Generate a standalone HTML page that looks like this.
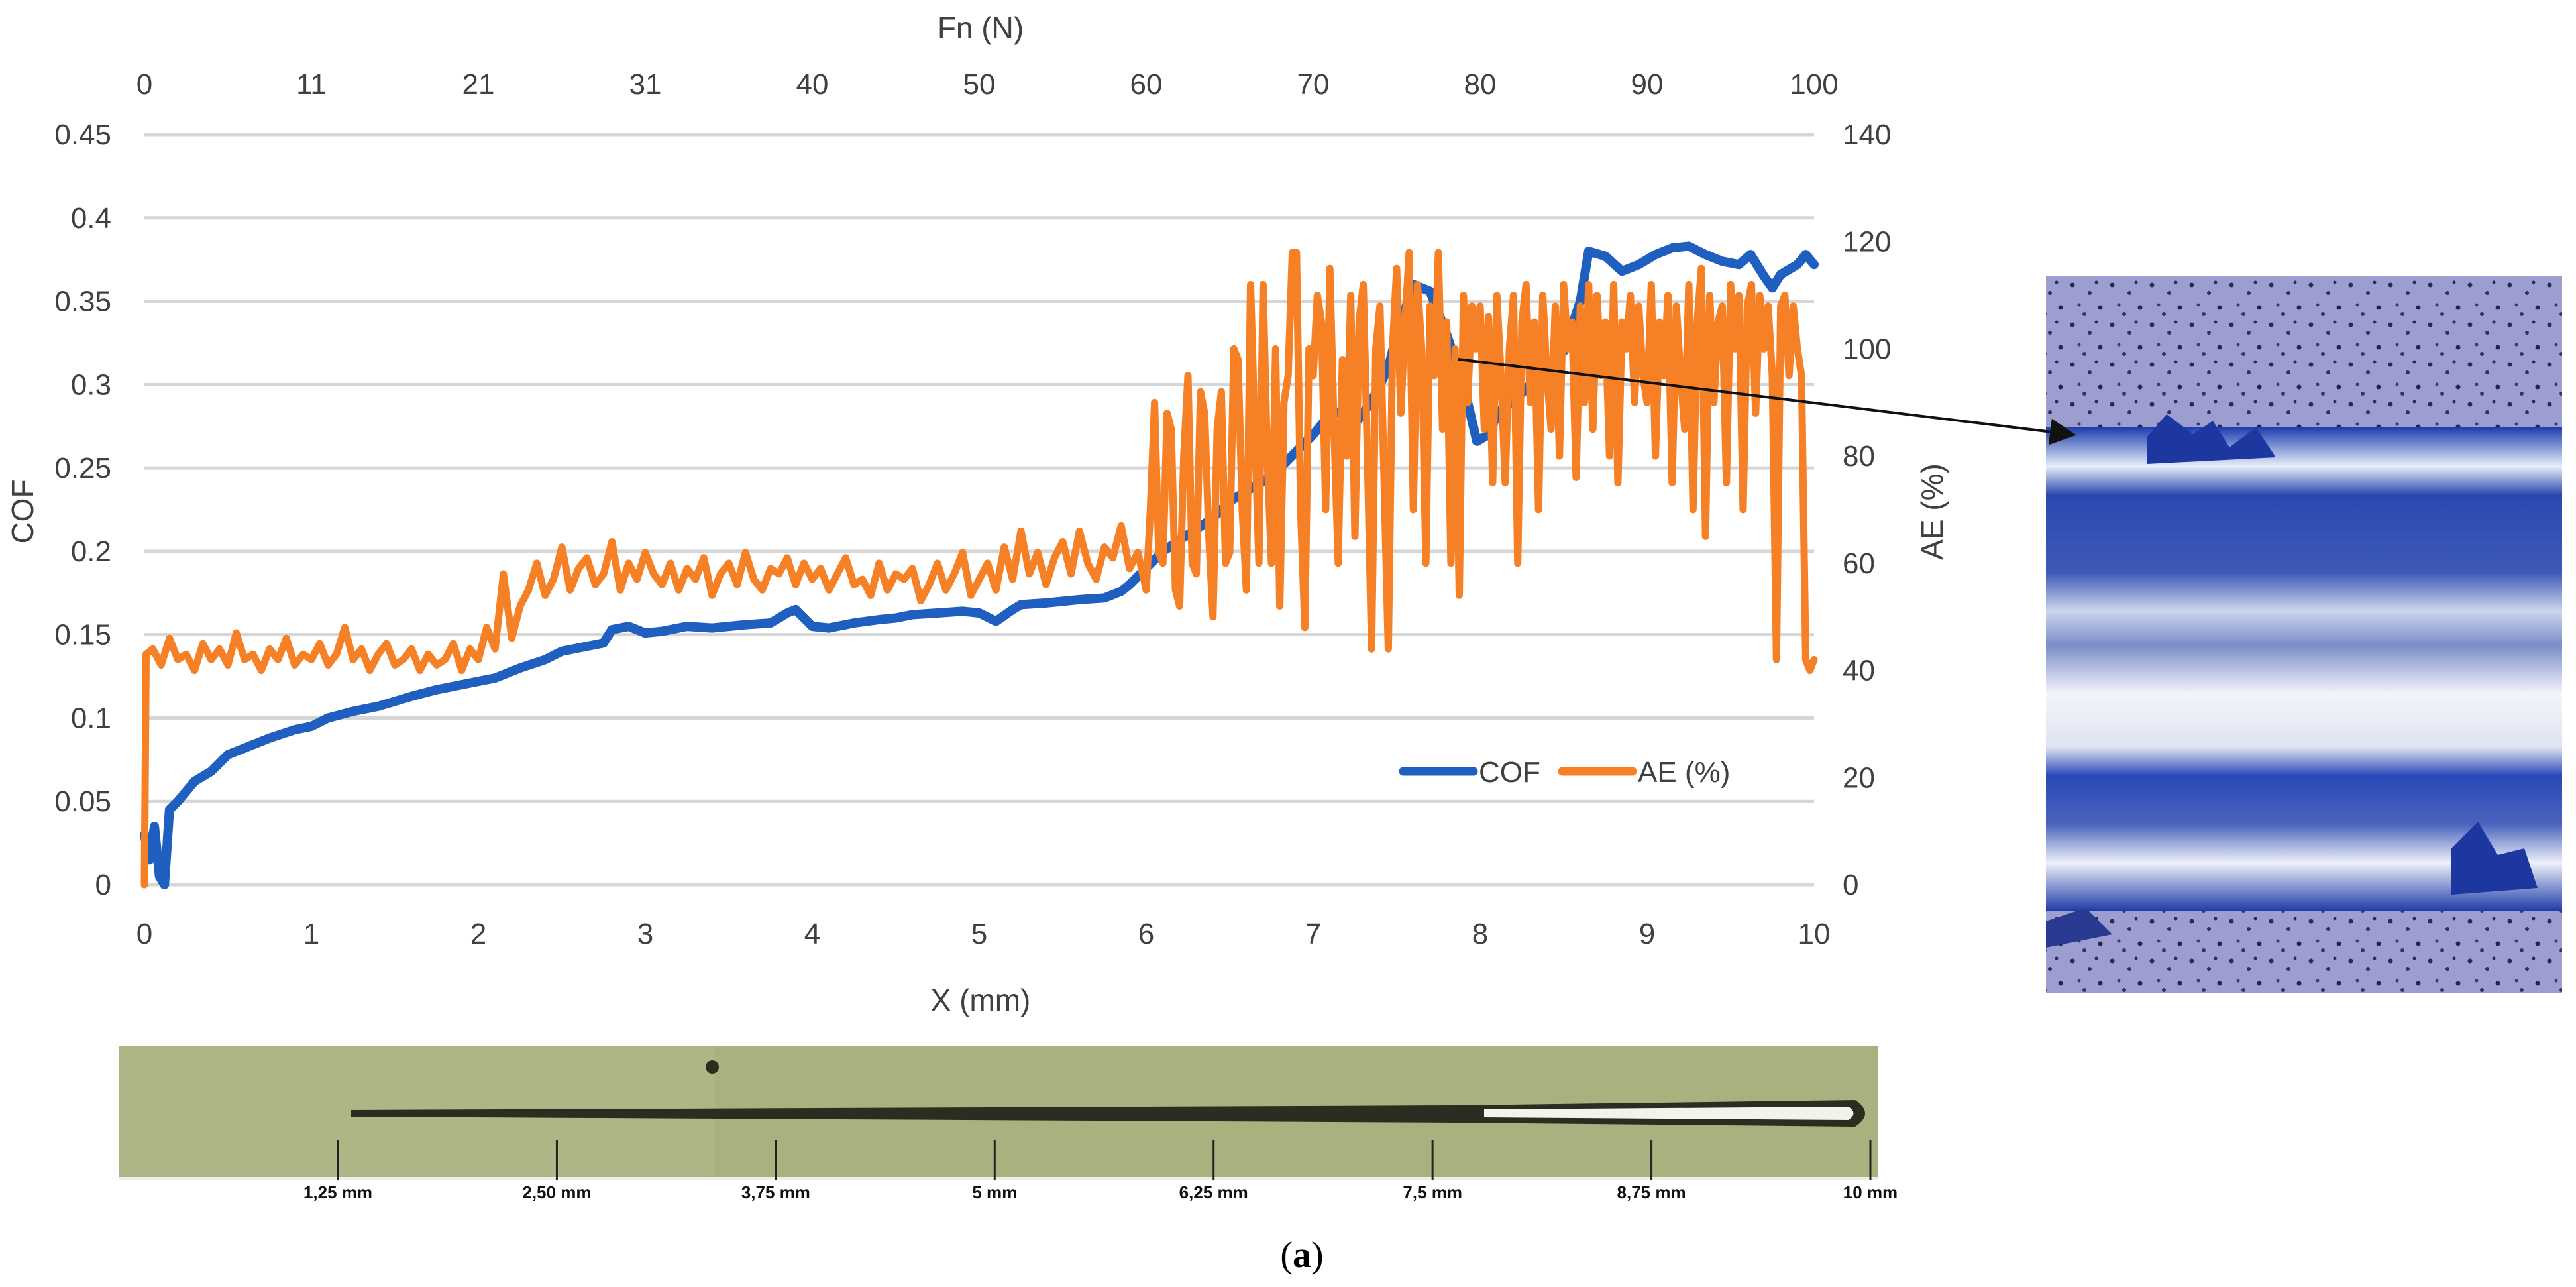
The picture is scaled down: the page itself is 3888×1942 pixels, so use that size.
<!DOCTYPE html>
<html><head><meta charset="utf-8"><style>
html,body{margin:0;padding:0;background:#fff;}
svg{display:block;font-family:"Liberation Sans",sans-serif;}
</style></head><body>
<svg id="chart" width="3888" height="1942" viewBox="0 0 3888 1942">
<defs>
<pattern id="speck" width="60" height="60" patternUnits="userSpaceOnUse">
<rect width="60" height="60" fill="#9c9ed0"/>
<circle cx="8" cy="10" r="3.5" fill="#2a2a50"/><circle cx="34" cy="22" r="3" fill="#303060"/>
<circle cx="50" cy="44" r="3.5" fill="#25254a"/><circle cx="18" cy="40" r="2.5" fill="#403a5a"/>
<circle cx="44" cy="6" r="2.5" fill="#2a2a50"/><circle cx="26" cy="54" r="3" fill="#353560"/>
</pattern>
<linearGradient id="groove" x1="0" y1="0" x2="0" y2="1">
<stop offset="0" stop-color="#1c3fae"/><stop offset="0.08" stop-color="#e8eefa"/><stop offset="0.14" stop-color="#2a48b0"/>
<stop offset="0.3" stop-color="#3d5ab8"/><stop offset="0.38" stop-color="#cdd6ec"/><stop offset="0.45" stop-color="#7a8cc8"/>
<stop offset="0.55" stop-color="#f3f5fb"/><stop offset="0.66" stop-color="#dfe4f2"/><stop offset="0.72" stop-color="#2a48b8"/>
<stop offset="0.82" stop-color="#4b63bd"/><stop offset="0.9" stop-color="#eef1f8"/><stop offset="1" stop-color="#1e3aa8"/>
</linearGradient>
<marker id="arrowhead" markerWidth="10" markerHeight="10" refX="9" refY="5" orient="auto" markerUnits="strokeWidth"><path d="M0,0 L10,5 L0,10 z" fill="#111"/></marker>
</defs>
<g id="grid"></g>
<g id="leftTicks"></g>
<g id="rightTicks"></g>
<g id="bottomTicks"></g>
<g id="topTicks"></g>
<g id="series"></g>
<text x="1480" y="1525" font-size="46" fill="#404040" text-anchor="middle">X (mm)</text>
<text x="1480" y="58" font-size="46" fill="#404040" text-anchor="middle">Fn (N)</text>
<text transform="translate(50,772) rotate(-90)" font-size="46" fill="#404040" text-anchor="middle">COF</text>
<text transform="translate(2932,772) rotate(-90)" font-size="46" fill="#404040" text-anchor="middle">AE (%)</text>
<g>
<line x1="2118" y1="1164" x2="2224" y2="1164" stroke="#1f5fbf" stroke-width="13" stroke-linecap="round"/>
<text x="2232" y="1180" font-size="44" fill="#404040">COF</text>
<line x1="2358" y1="1164" x2="2464" y2="1164" stroke="#f58025" stroke-width="13" stroke-linecap="round"/>
<text x="2472" y="1180" font-size="44" fill="#404040">AE (%)</text>
</g>
<g>
<rect x="3088" y="417" width="779" height="1081" fill="url(#speck)"/>
<rect x="3088" y="645" width="779" height="730" fill="url(#groove)"/>
<path d="M3240,660 l30,-35 l40,30 l30,-20 l25,40 l40,-30 l30,45 l-195,10z" fill="#1c38a0"/>
<path d="M3700,1280 l40,-40 l30,50 l40,-10 l20,60 l-130,10z" fill="#1c38a0"/>
<path d="M3088,1390 l60,-20 l40,40 l-100,20z" fill="#2a3a90"/>
</g>
<line x1="2201" y1="542" x2="3130" y2="656" stroke="#111" stroke-width="4" marker-end="url(#arrowhead)"/>
<g>
<rect x="179" y="1579" width="2656" height="201" fill="#a9b27e"/>
<rect x="179" y="1579" width="900" height="201" fill="#b3b98c" opacity="0.6"/>
<path d="M530,1675 L2200,1668 L2800,1660 Q2830,1680 2800,1700 L2200,1694 L530,1685 z" fill="#2a2d20"/>
<path d="M2240,1674 L2790,1670 Q2805,1680 2790,1690 L2240,1686 z" fill="#f2f4ec"/>
<circle cx="1075" cy="1610" r="10" fill="#2a2d20"/>
<rect x="179" y="1776" width="2656" height="4" fill="#eee"/>
</g>
<g id="stripTicks"></g>
<text x="1965" y="1912" font-size="56" font-family="Liberation Serif, serif" fill="#000" text-anchor="middle">(<tspan font-weight="bold">a</tspan>)</text>
</svg>
<script>
const cofTicks = [0,0.05,0.1,0.15,0.2,0.25,0.3,0.35,0.4,0.45];
const cofTickLabels = ["0","0.05","0.1","0.15","0.2","0.25","0.3","0.35","0.4","0.45"];
const aeTicks = [0,20,40,60,80,100,120,140];
const xTicks = [0,1,2,3,4,5,6,7,8,9,10];
const fnTickLabels = ["0","11","21","31","40","50","60","70","80","90","100"];
const stripLabels = ["1,25 mm","2,50 mm","3,75 mm","5 mm","6,25 mm","7,5 mm","8,75 mm","10 mm"];
const stripMm = [1.25,2.5,3.75,5,6.25,7.5,8.75,10];
const cofX = [0,0.03,0.06,0.09,0.12,0.15,0.2,0.3,0.4,0.5,0.6,0.75,0.9,1.0,1.1,1.25,1.4,1.5,1.6,1.75,1.9,2.0,2.1,2.25,2.4,2.5,2.6,2.75,2.8,2.9,3.0,3.1,3.25,3.4,3.5,3.6,3.75,3.85,3.9,4.0,4.1,4.25,4.4,4.5,4.6,4.75,4.9,5.0,5.1,5.2,5.25,5.4,5.5,5.6,5.75,5.85,5.9,6.0,6.1,6.25,6.4,6.5,6.6,6.75,6.9,7.0,7.1,7.2,7.27,7.35,7.45,7.5,7.6,7.7,7.8,7.9,7.98,8.05,8.11,8.2,8.3,8.4,8.5,8.6,8.65,8.75,8.85,8.95,9.05,9.15,9.25,9.35,9.45,9.55,9.62,9.7,9.75,9.8,9.9,9.95,10.0];
const cofY = [0.03,0.015,0.035,0.005,0.0,0.045,0.05,0.062,0.068,0.078,0.082,0.088,0.093,0.095,0.1,0.104,0.107,0.11,0.113,0.117,0.12,0.122,0.124,0.13,0.135,0.14,0.142,0.145,0.153,0.155,0.151,0.152,0.155,0.154,0.155,0.156,0.157,0.163,0.165,0.155,0.154,0.157,0.159,0.16,0.162,0.163,0.164,0.163,0.158,0.165,0.168,0.169,0.17,0.171,0.172,0.176,0.18,0.19,0.2,0.21,0.22,0.23,0.236,0.245,0.26,0.27,0.282,0.285,0.279,0.29,0.31,0.33,0.36,0.356,0.33,0.3,0.266,0.27,0.284,0.29,0.3,0.312,0.32,0.35,0.38,0.377,0.368,0.372,0.378,0.382,0.383,0.378,0.374,0.372,0.378,0.365,0.358,0.366,0.372,0.378,0.372];
const aeX = [0,0.01,0.05,0.1,0.15,0.2,0.25,0.3,0.35,0.4,0.45,0.5,0.55,0.6,0.65,0.7,0.75,0.8,0.85,0.9,0.95,1.0,1.05,1.1,1.15,1.2,1.25,1.3,1.35,1.4,1.45,1.5,1.55,1.6,1.65,1.7,1.75,1.8,1.85,1.9,1.95,2.0,2.05,2.1,2.15,2.2,2.25,2.3,2.35,2.4,2.45,2.5,2.55,2.6,2.65,2.7,2.75,2.8,2.85,2.9,2.95,3.0,3.05,3.1,3.15,3.2,3.25,3.3,3.35,3.4,3.45,3.5,3.55,3.6,3.65,3.7,3.75,3.8,3.85,3.9,3.95,4.0,4.05,4.1,4.15,4.2,4.25,4.3,4.35,4.4,4.45,4.5,4.55,4.6,4.65,4.7,4.75,4.8,4.85,4.9,4.95,5.0,5.05,5.1,5.15,5.2,5.25,5.3,5.35,5.4,5.45,5.5,5.55,5.6,5.65,5.7,5.75,5.8,5.85,5.9,5.95,6.0,
6.025,6.05,6.075,6.1,6.125,6.15,6.175,6.2,6.225,6.25,6.275,6.3,6.325,6.35,6.375,6.4,6.425,6.45,6.475,6.5,6.525,6.55,6.575,6.6,6.625,6.65,6.675,6.7,6.725,6.75,6.775,6.8,6.825,6.85,6.875,6.9,6.925,6.95,6.975,7.0,
7.025,7.05,7.075,7.1,7.125,7.15,7.175,7.2,7.225,7.25,7.275,7.3,7.325,7.35,7.375,7.4,7.425,7.45,7.475,7.5,7.525,7.55,7.575,7.6,7.625,7.65,7.675,7.7,7.725,7.75,7.775,7.8,7.825,7.85,7.875,7.9,7.925,7.95,7.975,8.0,
8.025,8.05,8.075,8.1,8.125,8.15,8.175,8.2,8.225,8.25,8.275,8.3,8.325,8.35,8.375,8.4,8.425,8.45,8.475,8.5,8.525,8.55,8.575,8.6,8.625,8.65,8.675,8.7,8.725,8.75,8.775,8.8,8.825,8.85,8.875,8.9,8.925,8.95,8.975,9.0,
9.025,9.05,9.075,9.1,9.125,9.15,9.175,9.2,9.225,9.25,9.275,9.3,9.325,9.35,9.375,9.4,9.425,9.45,9.475,9.5,9.525,9.55,9.575,9.6,9.625,9.65,9.675,9.7,9.725,9.75,9.775,9.8,9.825,9.85,9.875,9.9,9.925,9.95,9.975,10.0];
const aeY = [0,43,
44,41,46,42,43,40,45,42,44,41,47,42,43,40,44,42,46,41,43,42,
45,41,43,48,42,44,40,43,45,41,42,44,40,43,41,42,45,40,44,42,
48,44,58,46,52,55,60,54,57,63,55,59,61,56,58,64,55,60,57,62,
58,56,60,55,59,57,61,54,58,60,56,62,57,55,59,58,61,56,60,57,
59,55,58,61,56,57,54,60,55,58,57,59,53,56,60,55,58,62,54,57,
60,55,63,57,66,58,62,56,61,64,58,66,60,57,63,61,67,59,62,55,
70,90,62,60,88,85,55,52,80,95,60,58,92,88,65,50,85,92,60,62,100,98,70,55,112,85,60,112,80,60,100,52,90,95,118,118,70,48,100,95,
110,105,70,115,85,60,98,80,110,65,105,112,80,44,100,108,75,44,100,115,88,105,118,70,112,100,60,108,95,118,85,105,60,100,54,110,90,108,100,108,
85,106,75,110,95,75,100,110,60,105,112,90,105,70,110,95,85,108,80,112,100,105,76,108,90,112,85,110,95,105,80,112,75,105,100,110,90,108,95,90,
112,80,105,95,110,75,108,95,85,112,70,105,115,65,110,90,105,108,75,112,100,110,70,108,112,88,110,100,108,95,42,108,110,95,108,100,95,42,40,42];

const NS = "http://www.w3.org/2000/svg";
const X0 = 218, X1 = 2738, Y0 = 1335, Y1 = 203;
const xS = v => X0 + (v - 0) / 10 * (X1 - X0);
const yCof = v => Y0 - v / 0.45 * (Y0 - Y1);
const yAe = v => Y0 - v / 140 * (Y0 - Y1);
function mk(tag, attrs, parent) { const e = document.createElementNS(NS, tag); for (const k in attrs) e.setAttribute(k, attrs[k]); parent.appendChild(e); return e; }
const grid = document.getElementById('grid');
cofTicks.forEach((t, i) => {
  const l = mk('line', {x1: X0, x2: X1, y1: yCof(t), y2: yCof(t), stroke: '#d6d6d6', 'stroke-width': 5}, grid);
  
  
  const tx = mk('text', {x: 168, y: yCof(t) + 15, 'font-size': 44, fill: '#404040', 'text-anchor': 'end'}, document.getElementById('leftTicks'));
  tx.textContent = cofTickLabels[i];
  
  
});
aeTicks.forEach(t => {
  const tx = mk('text', {x: 2781, y: yAe(t) + 15, 'font-size': 44, fill: '#404040'}, document.getElementById('rightTicks'));
  tx.textContent = String(t);
  
  
});
xTicks.forEach((t, i) => {
  const tx = mk('text', {x: xS(t), y: 1424, 'font-size': 44, fill: '#404040', 'text-anchor': 'middle'}, document.getElementById('bottomTicks'));
  tx.textContent = String(t);
  
  
  const tt = mk('text', {x: xS(t), y: 142, 'font-size': 44, fill: '#404040', 'text-anchor': 'middle'}, document.getElementById('topTicks'));
  tt.textContent = fnTickLabels[i];
  
  
});
const series = document.getElementById('series');
const cofPath = mk('path', {d: cofX.map((x, i) => (i ? 'L' : 'M') + xS(x).toFixed(1) + ',' + yCof(cofY[i]).toFixed(1)).join(''), fill: 'none', stroke: '#1f5fbf', 'stroke-width': 14, 'stroke-linejoin': 'round', 'stroke-linecap': 'round'}, series);


const aePath = mk('path', {d: aeX.map((x, i) => (i ? 'L' : 'M') + xS(x).toFixed(1) + ',' + yAe(aeY[i]).toFixed(1)).join(''), fill: 'none', stroke: '#f58025', 'stroke-width': 11, 'stroke-linejoin': 'round', 'stroke-linecap': 'round'}, series);


const st = document.getElementById('stripTicks');
stripMm.forEach((m, i) => {
  const px = 510 + (m - 1.25) / 8.75 * (2823 - 510);
  const l = mk('line', {x1: px, x2: px, y1: 1720, y2: 1780, stroke: '#222', 'stroke-width': 3}, st);
  
  
  const tx = mk('text', {x: px, y: 1808, 'font-size': 26, 'font-weight': 'bold', fill: '#111', 'text-anchor': 'middle'}, st);
  tx.textContent = stripLabels[i];
  
  
});
</script>
</body></html>
